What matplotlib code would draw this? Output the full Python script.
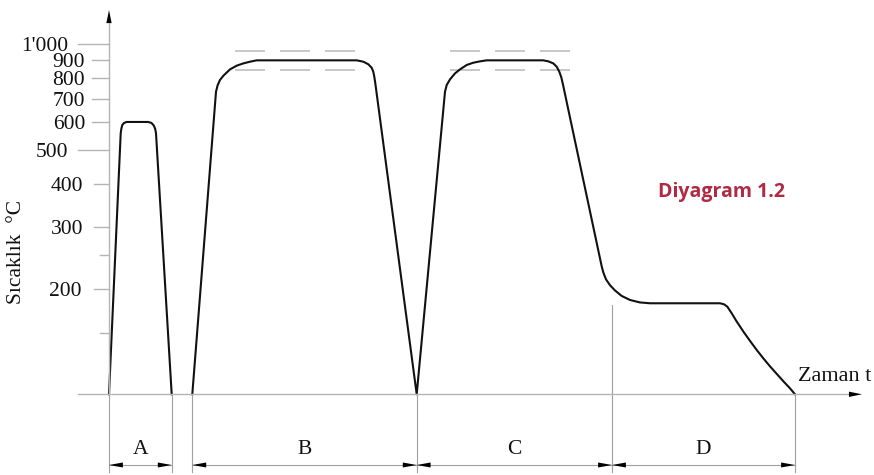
import matplotlib
matplotlib.use('Agg')
import matplotlib.pyplot as plt
from matplotlib.ticker import NullLocator

plt.rcParams['font.family'] = ['Liberation Serif', 'DejaVu Serif']
plt.rcParams['lines.scale_dashes'] = False

# ---------------- data ----------------
tick_values = [1000, 900, 800, 700, 600, 500, 400, 300, 250, 200, 150]
tick_labels = ["1'000", '900', '800', '700', '600', '500', '400', '300', '', '200', '']

# cycle A (time in arbitrary units, temperature in °C)
time_a = [0, 1.17, 1.24, 1.33, 1.5, 1.77, 3.93, 4.25, 4.48, 4.62, 4.7, 6.27]
temp_a = [100, 557, 575, 588, 596, 600, 600, 596, 586, 573, 557, 100]

# cycles B, C, D (one continuous curve)
time_bcd = [8.33, 10.7, 10.87, 11.1, 11.43, 12.1, 12.77, 13.43, 14.1, 14.77,
            24.77, 25.43, 25.93, 26.27, 26.43, 26.53, 26.63, 30.77,
            33.6, 33.77, 34.1, 34.6, 35.1, 35.77, 36.43, 37.1, 37.77,
            43.43, 43.93, 44.43, 44.77, 45.03, 45.23, 45.37,
            49.27, 49.43, 49.7, 50.1, 50.6, 51.27, 52.1, 53.1, 54.1,
            61.1, 61.5, 61.83, 62.27, 62.77, 63.43, 64.1, 64.77, 65.43,
            66.1, 66.77, 67.43, 68.1, 68.6]
temp_bcd = [100, 732, 765, 791, 813, 848, 869, 882, 892, 900,
            900, 892, 877, 857, 835, 808, 774, 100,
            732, 765, 794, 826, 848, 873, 886, 894, 900,
            900, 894, 882, 863, 835, 805, 774,
            232, 223, 213, 205, 198, 191, 186, 183, 182,
            182, 180.8, 178, 170.4, 161.4, 151.2, 142.1, 133.9, 126.7,
            120.2, 114.4, 109.0, 104.0, 100]

phase_names = ['A', 'B', 'C', 'D']
phase_start = [0, 8.33, 30.77, 50.3]
phase_end = [6.27, 30.77, 50.3, 68.6]

boundaries = [0, 6.27, 8.33, 30.77, 50.3, 68.6]
boundary_top = [100, 100, 100, 100, 180, 100]

band_upper = 960
band_lower = 845
band_spans = [(12.6, 24.6), (34.1, 46.1)]

# ---------------- layout (style only) ----------------
tick_start_x = [-3.1, -1.7, -1.7, -1.7, -1.7, -3.1, -1.5, -1.5, -0.9, -1.5, -0.9]
label_right_x = [-4.1, -2.4, -2.4, -2.4, -2.4, -4.1, -2.6, -2.6, -2.6, -2.8, -2.8]

# ---------------- figure ----------------
fig = plt.figure(figsize=(8.74, 4.75), dpi=100)
ax = fig.add_axes([0, 0, 1, 1])
ax.set_yscale('log')
ax.set_xlim(-10.9, 76.5)
ax.set_ylim(58.8, 1338.6)
ax.patch.set_visible(False)

axis_gray = '#b4b4b4'
line_gray = '#a0a0a0'
ink = '#111111'

for s in ['top', 'right']:
    ax.spines[s].set_visible(False)
ax.spines['left'].set_position(('data', 0))
ax.spines['left'].set_bounds(100, 1150)
ax.spines['left'].set_color(axis_gray)
ax.spines['left'].set_linewidth(1.0)
ax.spines['bottom'].set_position(('data', 100))
ax.spines['bottom'].set_bounds(-3.1, 73.9)
ax.spines['bottom'].set_color(axis_gray)
ax.spines['bottom'].set_linewidth(1.0)

for axis in (ax.xaxis, ax.yaxis):
    axis.set_major_locator(NullLocator())
    axis.set_minor_locator(NullLocator())

# y ticks and labels (varying tick lengths as in the drawing)
for v, lab, xs, xl in zip(tick_values, tick_labels, tick_start_x, label_right_x):
    ax.plot([xs, 0], [v, v], color=axis_gray, lw=1.0)
    if lab:
        ax.text(xl, v, lab, ha='right', va='center_baseline', fontsize=15.5,
                color=ink)

# axis arrows
ahead = dict(arrowstyle='-|>,head_length=9.4,head_width=1.9', mutation_scale=1,
             color='k', lw=0, shrinkA=0, shrinkB=0)
ax.annotate('', xy=(0, 1253), xytext=(0, 1150), arrowprops=ahead)
ax.annotate('', xy=(75.3, 100), xytext=(73.9, 100), arrowprops=ahead)

# temperature band dashes
for (t0, t1) in band_spans:
    for v in (band_upper, band_lower):
        ax.plot([t0, t1], [v, v], color='#c8c8c8', lw=1.4,
                dashes=(21.6, 10.8), solid_capstyle='butt', dash_capstyle='butt')

# curves
ax.plot(time_a, temp_a, color=ink, lw=1.5, solid_joinstyle='round')
ax.plot(time_bcd, temp_bcd, color=ink, lw=1.5, solid_joinstyle='round')

# extension lines
for b, top in zip(boundaries, boundary_top):
    ax.plot([b, b], [top, 60], color=line_gray, lw=0.8)

# dimension lines with arrow heads
dim_y = 62.8
dhead = dict(arrowstyle='-|>,head_length=10,head_width=1.8', mutation_scale=1,
             color='k', lw=0, shrinkA=0, shrinkB=0)
for name, a, b in zip(phase_names, phase_start, phase_end):
    ax.plot([a, b], [dim_y, dim_y], color=line_gray, lw=0.8)
    ax.annotate('', xy=(a, dim_y), xytext=(11, 0), textcoords='offset points',
                arrowprops=dhead)
    ax.annotate('', xy=(b, dim_y), xytext=(-11, 0), textcoords='offset points',
                arrowprops=dhead)
    ax.text((a + b) / 2, 70.7, name, ha='center', va='center_baseline',
            fontsize=15.5, color=ink)

# texts
ax.text(68.9, 114.3, 'Zaman t', ha='left', va='center_baseline', fontsize=16,
        color=ink)
ax.text(-9.2, 255, 'Sıcaklık  °C', ha='center', va='center', rotation=90,
        fontsize=15.5, color=ink)
ax.text(61.2, 378, 'Diyagram 1.2', ha='center', va='center', fontsize=14,
        fontweight='bold', color='#b12a43', family=['Open Sans', 'DejaVu Sans'])

fig.savefig('out.png', dpi=100)
